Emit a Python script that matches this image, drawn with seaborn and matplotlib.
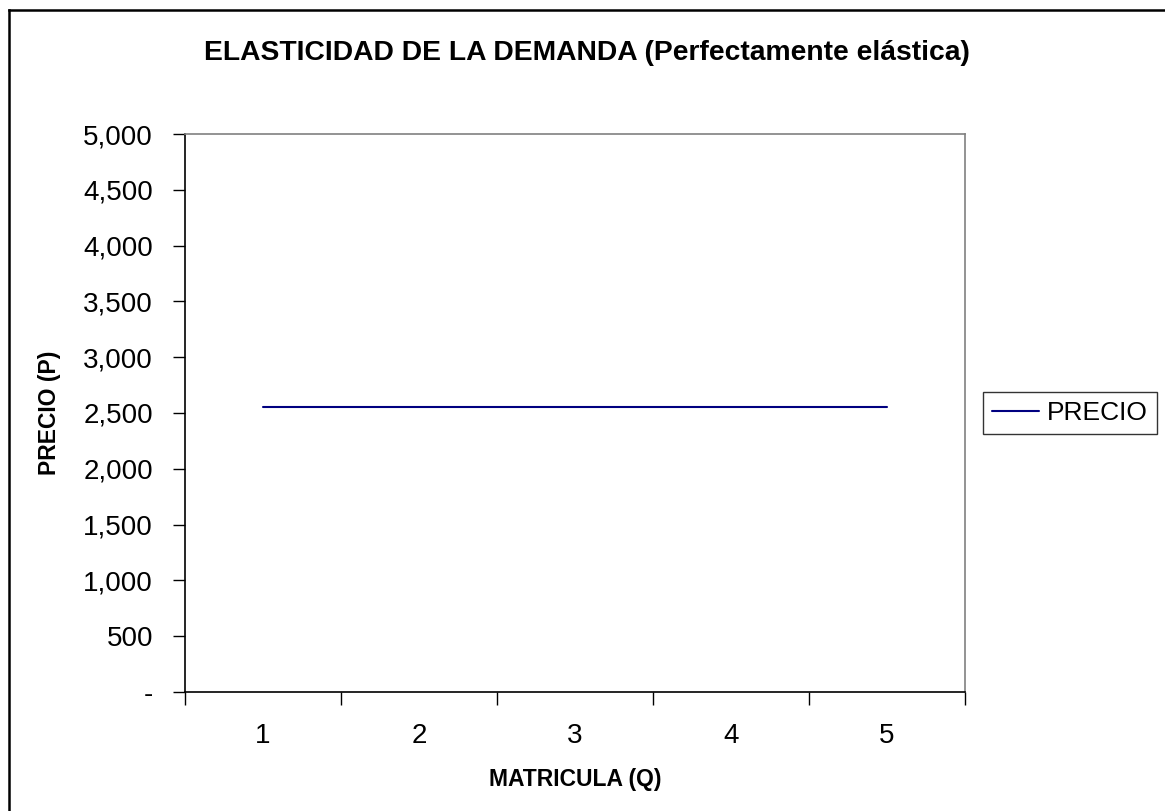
import matplotlib
matplotlib.use("Agg")
import matplotlib.pyplot as plt
import matplotlib.ticker as mticker
from matplotlib.lines import Line2D
import seaborn as sns
import pandas as pd

matricula = [1, 2, 3, 4, 5]
precio = [2550, 2550, 2550, 2550, 2550]
y_ticks = [0, 500, 1000, 1500, 2000, 2500, 3000, 3500, 4000, 4500, 5000]

sns.set_style("white")
plt.rcParams['font.family'] = ['Liberation Sans', 'DejaVu Sans']
plt.rcParams['text.color'] = 'black'
plt.rcParams['axes.labelcolor'] = 'black'
plt.rcParams['xtick.color'] = 'black'
plt.rcParams['ytick.color'] = 'black'

df = pd.DataFrame({"MATRICULA (Q)": matricula, "PRECIO": precio})

fig = plt.figure(figsize=(11.65, 8.11), dpi=100)
ax = fig.add_axes([185/1165, 1-692/811, (965-185)/1165, (692-134)/811])

sns.lineplot(data=df, x="MATRICULA (Q)", y="PRECIO", ax=ax, color="#000080",
             linewidth=1.5, label="PRECIO", legend=False)

ax.set_xlim(0.5, 5.5)
ax.set_ylim(0, 5000)
ax.set_xticks([0.5, 1.5, 2.5, 3.5, 4.5, 5.5])
ax.xaxis.set_major_formatter(mticker.NullFormatter())
ax.set_xticks(matricula, minor=True)
ax.set_xticklabels([str(m) for m in matricula], minor=True)
ax.tick_params(axis='x', which='major', direction='out', length=9, width=1, color='black', bottom=True)
ax.tick_params(axis='x', which='minor', length=0, labelsize=20, pad=22)
ax.set_yticks(y_ticks)
ax.set_yticklabels(["-" if v == 0 else f"{v:,}" for v in y_ticks])
ax.tick_params(axis='y', direction='out', length=9, width=1, color='black', left=True, labelsize=20, pad=14)

for s in ["left", "bottom"]:
    ax.spines[s].set_color("black")
    ax.spines[s].set_linewidth(1.2)
for s in ["top", "right"]:
    ax.spines[s].set_color("#808080")
    ax.spines[s].set_linewidth(1.2)

ax.set_xlabel("MATRICULA (Q)", fontsize=16.5, fontweight='bold', labelpad=14)
ax.set_ylabel("PRECIO (P)", fontsize=16.5, fontweight='bold', labelpad=16)

fig.text(587/1165, 1-53/811, "ELASTICIDAD DE LA DEMANDA (Perfectamente elástica)",
         ha='center', va='center', fontsize=20.3, fontweight='bold')

leg = fig.legend(handles=ax.get_lines()[:1], labels=["PRECIO"], loc='center left',
                 bbox_to_anchor=(983/1165, 1-413/811), fontsize=19, frameon=True,
                 fancybox=False, edgecolor='black', handlelength=1.8, handletextpad=0.3,
                 borderpad=0.33, borderaxespad=0)
leg.get_frame().set_linewidth(1)

fig.add_artist(Line2D([8.5/1165, 8.5/1165], [0, 1-10/811], transform=fig.transFigure,
                      color='black', linewidth=1.8, solid_capstyle='projecting'))
fig.add_artist(Line2D([8.5/1165, 1], [1-10/811, 1-10/811], transform=fig.transFigure,
                      color='black', linewidth=1.8, solid_capstyle='projecting'))

fig.savefig("out.png", dpi=100)
